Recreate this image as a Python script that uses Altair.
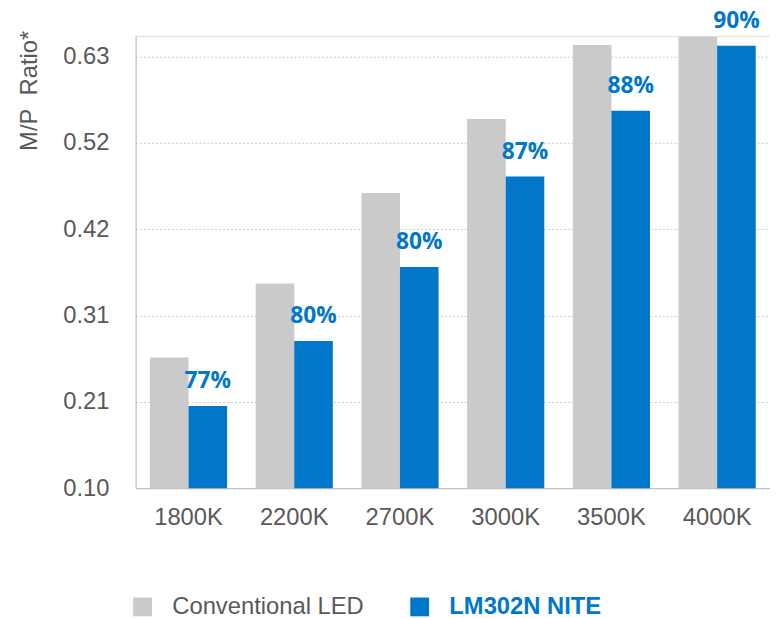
import altair as alt
import pandas as pd

categories = ["1800K", "2200K", "2700K", "3000K", "3500K", "4000K"]
series_names = ["Conventional LED", "LM302N NITE"]
conventional = [0.259, 0.349, 0.459, 0.549, 0.639, 0.649]
nite = [0.200, 0.279, 0.369, 0.479, 0.559, 0.638]
pct_labels = ["77%", "80%", "80%", "87%", "88%", "90%"]
tick_values = [0.10, 0.205, 0.31, 0.415, 0.52, 0.625]
tick_labels = ["0.10", "0.21", "0.31", "0.42", "0.52", "0.63"]

GREY = "#CACACA"
BLUE = "#0077C8"
TXT = "#595959"

rows = []
for i, c in enumerate(categories):
    rows.append({"cct": c, "series": series_names[0], "value": conventional[i], "label": ""})
    rows.append({"cct": c, "series": series_names[1], "value": nite[i], "label": pct_labels[i]})
df = pd.DataFrame(rows)

label_expr = "[" + ",".join("'%s'" % t for t in tick_labels) + "][indexof([" + ",".join(str(v) for v in tick_values) + "], datum.value)]"

x_enc = alt.X("cct:N", sort=categories, title=None,
              scale=alt.Scale(paddingInner=0.27, paddingOuter=0.135),
              axis=alt.Axis(labelFont="Liberation Sans", labelFontSize=24, labelColor=TXT,
                            labelPadding=18, ticks=False, domainColor="#BFBFBF", labelAngle=0,
                            grid=False))
xo_enc = alt.XOffset("series:N", sort=series_names,
                     scale=alt.Scale(domain=series_names, paddingInner=0, paddingOuter=0))
y_enc = alt.Y("value:Q", title="M/P\u00a0 Ratio*",
              scale=alt.Scale(domain=[0.10, 0.65], nice=False, zero=False),
              axis=alt.Axis(values=tick_values, labelExpr=label_expr,
                            labelFont="Liberation Sans", labelFontSize=24, labelColor=TXT,
                            labelPadding=27, ticks=False, domainColor="#BFBFBF",
                            grid=True, gridColor="#C8C8C8", gridDash=[2, 2], gridWidth=1,
                            titleFont="Liberation Sans", titleFontSize=24, titleColor=TXT,
                            titleFontWeight="normal", titleAngle=270, titleAlign="center",
                            titleBaseline="alphabetic", titleX=-100, titleY=55))

bars = alt.Chart(df).mark_bar(clip=True).encode(
    x=x_enc,
    xOffset=xo_enc,
    y=y_enc,
    color=alt.Color("series:N", sort=series_names,
                    scale=alt.Scale(domain=series_names, range=[GREY, BLUE]),
                    legend=alt.Legend(
                        title=None, orient="none", legendX=-5, legendY=565,
                        direction="horizontal", columns=2, padding=0,
                        symbolType="square", symbolSize=361, symbolStrokeWidth=0,
                        symbolOpacity=1,
                        labelFont="Liberation Sans", labelFontSize=24,
                        labelColor=alt.ExprRef(expr="datum.value === 'LM302N NITE' ? '#0077C8' : '#595959'"),
                        labelFontWeight=alt.ExprRef(expr="datum.value === 'LM302N NITE' ? 'bold' : 'normal'"),
                        labelOffset=18, columnPadding=44, labelLimit=400)),
)

texts = alt.Chart(df).transform_filter(
    alt.datum.series == "LM302N NITE"
).mark_text(baseline="alphabetic", dy=-18, font="Open Sans", fontWeight="bold",
            fontSize=23, color=BLUE).encode(
    x=alt.X("cct:N", sort=categories),
    xOffset=alt.XOffset("series:N", sort=series_names),
    y=alt.Y("value:Q"),
    text="label:N",
)

chart = alt.layer(bars, texts).properties(
    width=641, height=457,
    padding={"left": 129, "top": 25, "right": 0, "bottom": 128},
    autosize=alt.AutoSizeParams(type="none"),
).configure_view(stroke=None).configure(background="white")

chart.save("out.html", embed_options={"renderer": "svg", "actions": False})
